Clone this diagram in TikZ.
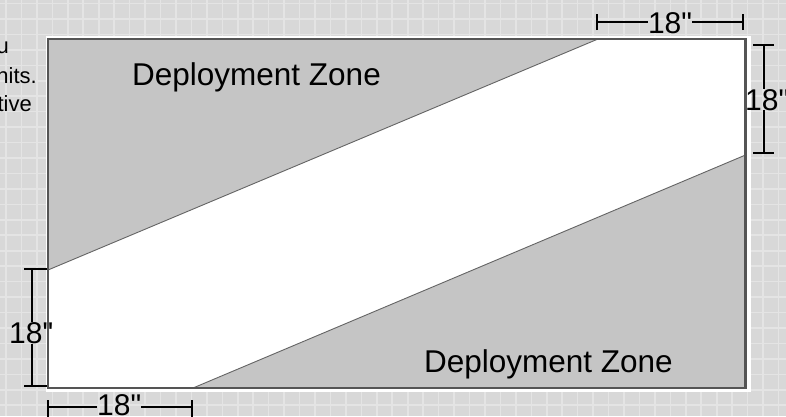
\documentclass[tikz,border=0pt]{standalone}
\usepackage{fontspec}
\setmainfont{Liberation Sans}
\newcommand\dquote{\XeTeXglyph\XeTeXcharglyph"22\relax}
\definecolor{bggray}{RGB}{216,216,216}
\definecolor{gridcol}{RGB}{228,228,228}
\definecolor{zonegray}{RGB}{197,197,197}
\definecolor{edgegray}{RGB}{85,85,85}
\definecolor{diaggray}{RGB}{100,100,100}
\tikzset{
  gridline/.style={draw=gridcol, line width=1.6pt},
  zone/.style={fill=zonegray},
  diag/.style={draw=diaggray, line width=0.9pt},
  boardedge/.style={draw=edgegray, line width=2.2pt},
  dimline/.style={draw=black, line width=1.8pt},
  dimtext/.style={inner sep=0pt, font=\fontsize{30}{34}\selectfont},
  zonetext/.style={inner sep=0pt, font=\fontsize{31.5}{36}\selectfont},
  sidetext/.style={inner sep=0pt, font=\fontsize{22}{26}\selectfont},
}
\begin{document}
\begin{tikzpicture}[x=1pt, y=-1pt]
\useasboundingbox (0,0) rectangle (786,416);
\clip (0,0) rectangle (786,416);
% background grid
\fill[bggray] (0,0) rectangle (786,416);
\foreach \i in {0,...,51} {
  \draw[gridline] ({6+15.45*\i},0) -- ({6+15.45*\i},416);
}
\foreach \i in {0,...,27} {
  \draw[gridline] (0,{3.5+15.45*\i}) -- (786,{3.5+15.45*\i});
}
% side text fragments
\node[sidetext, anchor=base east] (s1) at (9,53) {u};
\node[sidetext, anchor=base east] (s2) at (37,83) {nits.};
\node[sidetext, anchor=base east] (s3) at (32,111) {tive};
% board
\fill[white] (45.5,36) rectangle (750.5,392);
\coordinate (tl) at (48,39);
\coordinate (tr) at (745.5,39);
\coordinate (br) at (745.5,388);
\coordinate (bl) at (48,388);
\coordinate (ua) at (598,39);
\coordinate (ub) at (48,270);
\coordinate (la) at (745.5,155);
\coordinate (lb) at (193,388);
\fill[white] (tl) rectangle (br);
\fill[zone] (tl) -- (ua) -- (ub) -- cycle;
\fill[zone] (la) -- (br) -- (lb) -- cycle;
\draw[diag] (ua) -- (ub);
\draw[diag] (la) -- (lb);
\draw[boardedge] (tl) rectangle (br);
% zone labels
\node[zonetext, anchor=base west] (z1) at (132,85) {Deployment Zone};
\node[zonetext, anchor=base east] (z2) at (673,372) {Deployment Zone};
% top dimension
\coordinate (t1) at (597,22);
\coordinate (t2) at (743,22);
\node[dimtext, anchor=base] (tlab) at (670,33) {18\dquote};
\draw[dimline] (t1) -- (tlab.west |- t1);
\draw[dimline] (tlab.east |- t2) -- (t2);
\draw[dimline] ([yshift=-8pt]t1) -- ([yshift=8pt]t1);
\draw[dimline] ([yshift=-8pt]t2) -- ([yshift=8pt]t2);
% right dimension
\coordinate (r1) at (764,45);
\coordinate (r2) at (764,153);
\node[dimtext, anchor=base west] (rlab) at (745,110) {18\dquote};
\draw[dimline] (r1) -- (r1 |- rlab.north);
\draw[dimline] (r2 |- rlab.south) -- (r2);
\draw[dimline] ([xshift=-11pt]r1) -- ([xshift=10pt]r1);
\draw[dimline] ([xshift=-11pt]r2) -- ([xshift=10pt]r2);
% left dimension
\coordinate (l1) at (32,269);
\coordinate (l2) at (32,386);
\node[dimtext, anchor=base west] (llab) at (9,343) {18\dquote};
\draw[dimline] (l1) -- (l1 |- llab.north);
\draw[dimline] (l2 |- llab.south) -- (l2);
\draw[dimline] ([xshift=-8pt]l1) -- ([xshift=15pt]l1);
\draw[dimline] ([xshift=-8pt]l2) -- ([xshift=15pt]l2);
% bottom dimension
\coordinate (b1) at (48,407);
\coordinate (b2) at (192,407);
\node[dimtext, anchor=base west] (blab) at (97,415) {18\dquote};
\draw[dimline] (b1) -- (blab.west |- b1);
\draw[dimline] (blab.east |- b2) -- (b2);
\draw[dimline] ([yshift=-14pt]b1) -- ([yshift=7pt]b1);
\draw[dimline] ([yshift=-14pt]b2) -- ([yshift=7pt]b2);
\end{tikzpicture}
\end{document}
